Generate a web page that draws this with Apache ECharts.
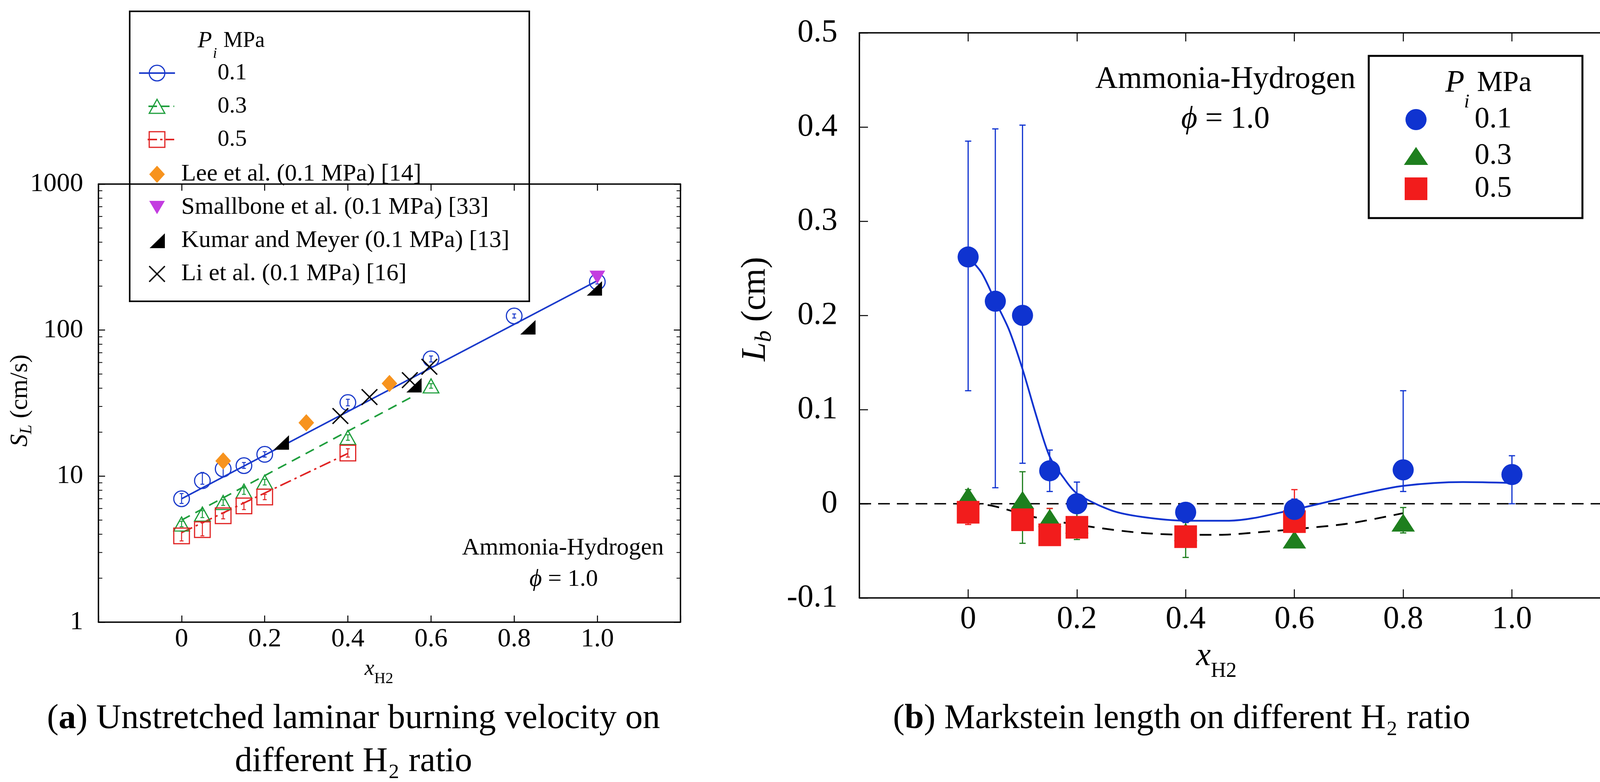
<!DOCTYPE html>
<html style="height: 100%">
<head>
  <meta charset="utf-8">
  <title>Ammonia-Hydrogen: S_L and L_b</title>
</head>
<body style="height: 100%; margin: 0; background: #fff">
<div id="container" style="width: 4180px; height: 2001px"></div>
<script type="text/javascript" src="https://cdn.jsdelivr.net/npm/echarts@6/dist/echarts.min.js"></script>
<script type="text/javascript">
  const SERIF = '"Liberation Serif", "Times New Roman", "DejaVu Serif", serif';

  // ---- (a) unstretched laminar burning velocity S_L (cm/s) ----
  const xA01 = [0, 0.05, 0.1, 0.15, 0.2, 0.4, 0.6, 0.8, 1.0];
  const sL01 = [7.0, 9.3, 11.2, 11.8, 14.1, 31.9, 63.5, 125, 214];
  const sL01Err = [[6.5, 7.6], [8.8, 10.6], [9.9, 11.9], [11.3, 12.4], [13.5, 14.7], [30.3, 33.6], [60.5, 66.5], [121, 129], [207, 221]];
  const xA03 = [0, 0.05, 0.1, 0.15, 0.2, 0.4, 0.6];
  const sL03 = [4.7, 5.5, 6.6, 7.9, 9.1, 18.4, 41.5];
  const sL03Err = [[4.5, 4.9], [5.2, 5.8], [6.3, 6.9], [7.5, 8.3], [8.7, 9.5], [17.6, 19.2], [40, 43]];
  const xA05 = [0, 0.05, 0.1, 0.15, 0.2, 0.4];
  const sL05 = [3.9, 4.3, 5.35, 6.25, 7.2, 14.4];
  const sL05Err = [[3.6, 4.2], [3.9, 4.8], [5.1, 5.6], [5.9, 6.6], [6.9, 7.5], [13.5, 15.4]];
  const fitA01 = [[0, 7.0], [1.0, 218]];
  const fitA03 = [[0, 5.0], [0.555, 35]];
  const fitA05 = [[0, 4.1], [0.4, 14.3]];
  const lee = [[0.1, 12.7], [0.3, 23.2], [0.5, 43.1]];
  const smallbone = [[1.0, 230]];
  const kumar = [[0.24, 17.0], [0.559, 41.9], [0.833, 104.5], [0.993, 193]];
  const li = [[0.382, 25.8], [0.452, 34.8], [0.549, 45.4], [0.596, 56.1]];
  const logMinorTicks = [2, 3, 4, 5, 6, 7, 8, 9, 20, 30, 40, 50, 60, 70, 80, 90, 200, 300, 400, 500, 600, 700, 800, 900];

  // ---- (b) Markstein length L_b (cm) ----
  const xB01 = [0, 0.05, 0.1, 0.15, 0.2, 0.4, 0.6, 0.8, 1.0];
  const lb01 = [0.262, 0.215, 0.200, 0.035, 0.0, -0.009, -0.006, 0.036, 0.031];
  const lb01Err = [[0.120, 0.385], [0.017, 0.398], [0.043, 0.402], [0.013, 0.057], [-0.022, 0.023], [-0.02, 0.0], [-0.015, 0.005], [0.013, 0.120], [0.0, 0.051]];
  const xB03 = [0, 0.1, 0.15, 0.2, 0.4, 0.6, 0.8];
  const lb03 = [0.008, 0.004, -0.015, -0.022, -0.03, -0.038, -0.02];
  const lb03Err = [[-0.005, 0.015], [-0.042, 0.034], [-0.025, -0.005], [-0.038, -0.008], [-0.057, -0.01], [-0.045, -0.03], [-0.031, -0.004]];
  const xB05 = [0, 0.1, 0.15, 0.2, 0.4, 0.6];
  const lb05 = [-0.009, -0.017, -0.033, -0.025, -0.035, -0.019];
  const lb05Err = [[-0.022, 0.0], [-0.025, -0.008], [-0.04, -0.005], [-0.035, -0.015], [-0.045, -0.025], [-0.03, 0.015]];
  const fitB01 = [[0, 0.262], [0.025, 0.245], [0.05, 0.215], [0.075, 0.185], [0.1, 0.143], [0.125, 0.094], [0.15, 0.05], [0.175, 0.028],
    [0.2, 0.011], [0.263, -0.007], [0.32, -0.014], [0.4, -0.018], [0.48, -0.018], [0.6, -0.006], [0.72, 0.010], [0.8, 0.019], [0.91, 0.023], [1.0, 0.022]];
  const fitB35 = [[0, 0.0], [0.043, -0.002], [0.12, -0.014], [0.22, -0.024], [0.32, -0.031], [0.41, -0.033], [0.46, -0.033],
    [0.56, -0.029], [0.6, -0.027], [0.7, -0.021], [0.8, -0.010]];
  const zeroLine = [[-0.2, 0], [1.2, 0]];

  const BLUE = '#1a3acb', BLUE_B = '#0f33d0', GREEN_A = '#1e9e3c', RED_A = '#e02323';
  const GREEN_B = '#1e7f1e', RED_B = '#f21c1c';

  let dom = document.getElementById('container');
  let myChart = echarts.init(dom);

  // text helpers (rich text path keeps the serif family)
  const ctx = document.createElement('canvas').getContext('2d');
  const fontOf = (size, italic, bold) => (italic ? 'italic ' : 'normal ') + (bold ? 'bold ' : 'normal ') + size + 'px ' + SERIF;
  function measure(t, size, italic) {
    ctx.font = fontOf(size, italic);
    return ctx.measureText(t).width;
  }
  function txt(x, y, text, size, opts) {
    opts = opts || {};
    const base = {fontSize: size, fontFamily: SERIF, fontStyle: opts.italic ? 'italic' : 'normal', fontWeight: 'normal', fill: '#000'};
    const rich = Object.assign({n: base, b: Object.assign({}, base, {fontWeight: 'bold'})}, opts.rich || {});
    return {
      type: 'text', x: x, y: y,
      style: Object.assign({}, base, {
        text: opts.raw ? text : '{n|' + text + '}', font: fontOf(size, opts.italic),
        rich: rich, align: opts.align || 'left', verticalAlign: 'middle'
      })
    };
  }
  // parts: [text, size, italic, dy]
  function textRun(cx, cy, parts, rotation) {
    const total = parts.reduce((s, p) => s + measure(p[0], p[1], p[2]), 0);
    let x = -total / 2;
    const children = parts.map(p => {
      const el = txt(x, p[3] || 0, p[0], p[1], {italic: p[2]});
      x += measure(p[0], p[1], p[2]);
      return el;
    });
    return {type: 'group', x: cx, y: cy, rotation: rotation || 0, children: children};
  }
  function seg(x1, y1, x2, y2, color, w, dash) {
    return {type: 'line', shape: {x1: x1, y1: y1, x2: x2, y2: y2}, style: {stroke: color, lineWidth: w, lineDash: dash || null}};
  }

  function errBar(color, cap, width) {
    return function (params, api) {
      const lo = api.coord([api.value(0), api.value(1)]);
      const hi = api.coord([api.value(0), api.value(2)]);
      return {
        type: 'group', children: [
          seg(lo[0], lo[1], hi[0], hi[1], color, width),
          seg(lo[0] - cap, lo[1], lo[0] + cap, lo[1], color, width),
          seg(hi[0] - cap, hi[1], hi[0] + cap, hi[1], color, width)
        ]
      };
    };
  }
  const zip = (xs, ys) => xs.map((x, i) => [x, ys[i]]);
  const zipErr = (xs, es) => xs.map((x, i) => [x, es[i][0], es[i][1]]);

  const fmtX = v => {
    const r = Math.round(v * 10) / 10;
    if (r < 0 || r > 1) return '';
    return r === 0 ? '0' : r.toFixed(1);
  };
  const fmtYB = v => {
    const r = Math.round(v * 10) / 10;
    return r === 0 ? '0' : r.toFixed(1);
  };

  function xAx(grid, pos, fs, tickLen, margin) {
    return {
      gridIndex: grid, type: 'value', min: -0.2, max: 1.2, interval: 0.2, position: pos,
      axisLine: {show: true, onZero: false, lineStyle: {color: '#000', width: 3.5}},
      axisTick: {show: true, inside: true, length: tickLen, lineStyle: {color: '#000', width: 2.5}},
      axisLabel: {show: pos === 'bottom', formatter: fmtX, fontSize: fs, fontFamily: SERIF, color: '#000', margin: margin},
      splitLine: {show: false}
    };
  }
  function yAxB(pos) {
    return {
      gridIndex: 1, type: 'value', min: -0.1, max: 0.5, interval: 0.1, position: pos,
      axisLine: {show: true, onZero: false, lineStyle: {color: '#000', width: 3.5}},
      axisTick: {show: true, inside: true, length: 22, lineStyle: {color: '#000', width: 2.5}},
      axisLabel: {show: pos === 'left', formatter: fmtYB, fontSize: 82, fontFamily: SERIF, color: '#000', margin: 56},
      splitLine: {show: false}
    };
  }
  function yAxA(pos) {
    return {
      gridIndex: 0, type: 'log', logBase: 10, min: 1, max: 1000, position: pos,
      axisLine: {show: true, onZero: false, lineStyle: {color: '#000', width: 3.5}},
      axisTick: {show: true, inside: true, length: 17, lineStyle: {color: '#000', width: 2.5}},
      axisLabel: {show: pos === 'left', formatter: v => String(Math.round(v)), fontSize: 68, fontFamily: SERIF, color: '#000', margin: 39},
      splitLine: {show: false}
    };
  }
  const onA = {xAxisIndex: 0, yAxisIndex: 0};
  const onB = {xAxisIndex: 2, yAxisIndex: 2};

  const option = {
    animation: false,
    backgroundColor: '#fff',
    grid: [
      {left: 252, top: 471, width: 1490, height: 1121, outerBoundsMode: 'none'},
      {left: 2200, top: 84, width: 1949, height: 1446, outerBoundsMode: 'none'}
    ],
    xAxis: [xAx(0, 'bottom', 68, 17, 10), xAx(0, 'top', 68, 17, 10), xAx(1, 'bottom', 82, 22, 14), xAx(1, 'top', 82, 22, 14)],
    yAxis: [yAxA('left'), yAxA('right'), yAxB('left'), yAxB('right')],
    series: [
      // ---------- (a) ----------
      Object.assign({
        type: 'custom', z: 1, silent: true,
        data: logMinorTicks.map(v => [0, v]), encode: {x: 0, y: 1},
        renderItem: (params, api) => {
          const v = api.value(1);
          const l = api.coord([-0.2, v]), r = api.coord([1.2, v]);
          return {type: 'group', children: [seg(l[0], l[1], l[0] + 10, l[1], '#000', 2), seg(r[0] - 10, r[1], r[0], r[1], '#000', 2)]};
        }
      }, onA),
      Object.assign({type: 'line', z: 2, data: fitA01, symbol: 'none', lineStyle: {color: BLUE, width: 4}}, onA),
      Object.assign({type: 'line', z: 2, data: fitA03, symbol: 'none', lineStyle: {color: GREEN_A, width: 4, type: [24, 16]}}, onA),
      Object.assign({type: 'line', z: 2, data: fitA05, symbol: 'none', lineStyle: {color: RED_A, width: 4, type: [30, 10, 6, 10]}}, onA),
      Object.assign({type: 'custom', z: 3, data: zipErr(xA01, sL01Err), encode: {x: 0, y: [1, 2]}, renderItem: errBar(BLUE, 5, 2.5)}, onA),
      Object.assign({type: 'custom', z: 3, data: zipErr(xA03, sL03Err), encode: {x: 0, y: [1, 2]}, renderItem: errBar(GREEN_A, 5, 2.5)}, onA),
      Object.assign({type: 'custom', z: 3, data: zipErr(xA05, sL05Err), encode: {x: 0, y: [1, 2]}, renderItem: errBar(RED_A, 5, 2.5)}, onA),
      Object.assign({type: 'scatter', name: '0.1 MPa', z: 4, data: zip(xA01, sL01), symbol: 'circle', symbolSize: 40,
        itemStyle: {color: 'transparent', borderColor: BLUE, borderWidth: 3, opacity: 1}}, onA),
      Object.assign({type: 'scatter', name: '0.3 MPa', z: 4, data: zip(xA03, sL03), symbol: 'triangle', symbolSize: [40, 36],
        itemStyle: {color: 'transparent', borderColor: GREEN_A, borderWidth: 3, opacity: 1}}, onA),
      Object.assign({type: 'scatter', name: '0.5 MPa', z: 4, data: zip(xA05, sL05), symbol: 'rect', symbolSize: 40,
        itemStyle: {color: 'transparent', borderColor: RED_A, borderWidth: 3, opacity: 1}}, onA),
      Object.assign({type: 'scatter', name: 'Lee et al.', z: 5, data: lee, symbol: 'diamond', symbolSize: [40, 44],
        itemStyle: {color: '#f7931e', opacity: 1}}, onA),
      Object.assign({type: 'scatter', name: 'Smallbone et al.', z: 5, data: smallbone, symbol: 'path://M0,0L10,0L5,9Z', symbolSize: [40, 34],
        itemStyle: {color: '#c33de0', opacity: 1}}, onA),
      Object.assign({type: 'scatter', name: 'Kumar and Meyer', z: 5, data: kumar, symbol: 'path://M10,0L10,10L0,10Z', symbolSize: [39, 37],
        itemStyle: {color: '#000', opacity: 1}}, onA),
      Object.assign({type: 'scatter', name: 'Li et al.', z: 5, data: li, symbol: 'path://M0,0L10,10M10,0L0,10', symbolSize: 40,
        itemStyle: {color: 'transparent', borderColor: '#000', borderWidth: 3.5, opacity: 1}}, onA),

      // ---------- (b) ----------
      Object.assign({type: 'line', z: 1, data: zeroLine, symbol: 'none', lineStyle: {color: '#000', width: 3.5, type: [30, 18]}}, onB),
      Object.assign({type: 'line', z: 2, data: fitB01, symbol: 'none', smooth: 0.3, lineStyle: {color: BLUE_B, width: 4.5}}, onB),
      Object.assign({type: 'line', z: 2, data: fitB35, symbol: 'none', smooth: 0.3, lineStyle: {color: '#000', width: 4.5, type: [30, 20]}}, onB),
      Object.assign({type: 'custom', z: 3, data: zipErr(xB01, lb01Err), encode: {x: 0, y: [1, 2]}, renderItem: errBar(BLUE_B, 8, 3)}, onB),
      Object.assign({type: 'custom', z: 3, data: zipErr(xB03, lb03Err), encode: {x: 0, y: [1, 2]}, renderItem: errBar(GREEN_B, 8, 3)}, onB),
      Object.assign({type: 'custom', z: 3, data: zipErr(xB05, lb05Err), encode: {x: 0, y: [1, 2]}, renderItem: errBar(RED_B, 8, 3)}, onB),
      Object.assign({type: 'scatter', name: '0.3', z: 4, data: zip(xB03, lb03), symbol: 'triangle', symbolSize: [60, 46], itemStyle: {color: GREEN_B, opacity: 1}}, onB),
      Object.assign({type: 'scatter', name: '0.5', z: 5, data: zip(xB05, lb05), symbol: 'rect', symbolSize: 58, itemStyle: {color: RED_B, opacity: 1}}, onB),
      Object.assign({type: 'scatter', name: '0.1', z: 6, data: zip(xB01, lb01), symbol: 'circle', symbolSize: 54, itemStyle: {color: BLUE_B, opacity: 1}}, onB)
    ],
    graphic: {
      elements: [
        // legend (a)
        {
          type: 'group', z: 100, children: [
            {type: 'rect', shape: {x: 332, y: 29, width: 1023, height: 742}, style: {fill: '#fff', stroke: '#000', lineWidth: 4}},
            txt(506, 105, 'P', 60, {italic: true}),
            txt(545, 138, 'i', 38, {italic: true}),
            txt(572, 105, 'MPa', 56),
            seg(356, 187, 448, 187, BLUE, 4),
            {type: 'circle', shape: {cx: 402, cy: 187, r: 20}, style: {fill: 'transparent', stroke: BLUE, lineWidth: 3}},
            txt(557, 187, '0.1', 60),
            seg(380, 272, 446, 272, GREEN_A, 4, [22, 10]),
            {type: 'polygon', shape: {points: [[382, 290], [422, 290], [402, 254]]}, style: {fill: 'transparent', stroke: GREEN_A, lineWidth: 3}},
            txt(557, 272, '0.3', 60),
            seg(378, 357, 446, 357, RED_A, 4, [24, 8, 6, 8]),
            {type: 'rect', shape: {x: 382, y: 337, width: 40, height: 40}, style: {fill: 'transparent', stroke: RED_A, lineWidth: 3}},
            txt(557, 357, '0.5', 60),
            {type: 'polygon', shape: {points: [[402, 424], [422, 446], [402, 468], [382, 446]]}, style: {fill: '#f7931e'}},
            txt(464, 446, 'Lee et al. (0.1 MPa) [14]', 62),
            {type: 'polygon', shape: {points: [[382, 514], [422, 514], [402, 548]]}, style: {fill: '#c33de0'}},
            txt(464, 531, 'Smallbone et al. (0.1 MPa) [33]', 62),
            {type: 'polygon', shape: {points: [[422, 597], [422, 635], [383, 635]]}, style: {fill: '#000'}},
            txt(464, 616, 'Kumar and Meyer (0.1 MPa) [13]', 62),
            seg(382, 681, 422, 721, '#000', 3.5),
            seg(422, 681, 382, 721, '#000', 3.5),
            txt(464, 701, 'Li et al. (0.1 MPa) [16]', 62)
          ]
        },
        // legend (b)
        {
          type: 'group', z: 100, children: [
            {type: 'rect', shape: {x: 3504, y: 143, width: 547, height: 415}, style: {fill: '#fff', stroke: '#000', lineWidth: 5}},
            txt(3700, 214, 'P', 80, {italic: true}),
            txt(3748, 262, 'i', 50, {italic: true}),
            txt(3781, 214, 'MPa', 74),
            {type: 'circle', shape: {cx: 3625, cy: 306, r: 27}, style: {fill: BLUE_B}},
            txt(3775, 306, '0.1', 76),
            {type: 'polygon', shape: {points: [[3594, 422], [3656, 422], [3625, 376]]}, style: {fill: GREEN_B}},
            txt(3775, 399, '0.3', 76),
            {type: 'rect', shape: {x: 3596, y: 454, width: 58, height: 58}, style: {fill: RED_B}},
            txt(3775, 483, '0.5', 76)
          ]
        },
        // annotations
        txt(1441, 1403, 'Ammonia-Hydrogen', 62, {align: 'center'}),
        textRun(1443, 1483, [['ϕ', 62, true, 0], [' = 1.0', 62, false, 0]]),
        txt(3137, 204, 'Ammonia-Hydrogen', 80, {align: 'center'}),
        textRun(3137, 306, [['ϕ', 80, true, 0], [' = 1.0', 80, false, 0]]),
        // axis titles
        textRun(970, 1712, [['x', 56, true, 0], ['H2', 40, false, 25]]),
        textRun(3114, 1680, [['x', 84, true, 0], ['H2', 54, false, 38]]),
        textRun(52, 1025, [['S', 64, true, 0], ['L', 44, true, 16], [' (cm/s)', 64, false, 0]], Math.PI / 2),
        textRun(1935, 791, [['L', 88, true, 0], ['b', 60, true, 22], [' (cm)', 88, false, 0]], Math.PI / 2),
        // captions
        txt(905, 1840, '{n|(}{b|a}{n|) Unstretched laminar burning velocity on}', 89, {align: 'center', raw: true}),
        txt(905, 1950, 'different H₂ ratio', 89, {align: 'center'}),
        txt(3025, 1840, '{n|(}{b|b}{n|) Markstein length on different H₂ ratio}', 89, {align: 'center', raw: true})
      ]
    }
  };

  myChart.setOption(option, true);
</script>
</body>
</html>
